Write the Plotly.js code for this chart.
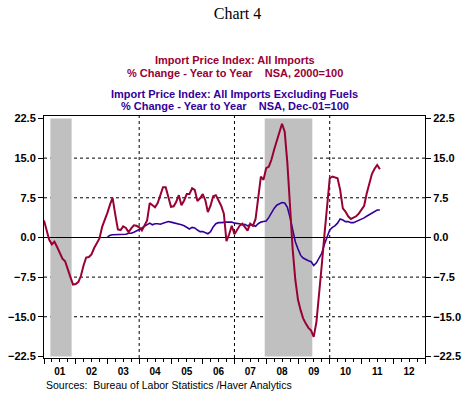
<!DOCTYPE html>
<html>
<head>
<meta charset="utf-8">
<script src="https://cdn.plot.ly/plotly-3.0.1.min.js"></script>
<style>html,body{margin:0;padding:0;background:#fff;}#chart{width:475px;height:393px;}</style>
</head>
<body>
<div id="chart"></div>
<script>
// Monthly series, % change year to year
const allImportsStart = [2001, 1];
const allImports = [
  3.2, 1.5, -0.4, -1.3, -0.8, -1.8, -3.0, -4.0, -4.5, -5.8, -7.5, -8.9,
  -8.8, -8.4, -7.3, -5.3, -3.8, -3.7, -3.2, -2.0, -1.1, -0.2, 2.0, 3.2,
  4.7, 6.3, 7.5, 4.3, 1.5, 1.4, 2.1, 1.8, 1.0, 1.7, 2.3, 2.2,
  1.9, 1.3, 2.1, 3.2, 6.5, 6.0, 5.7, 6.5, 8.2, 9.5, 9.5, 7.8,
  5.8, 5.9, 6.7, 8.0, 6.1, 7.0, 8.2, 8.2, 9.3, 9.0, 6.9, 7.4,
  8.2, 7.0, 4.8, 6.0, 7.8, 8.0, 7.1, 6.0, 4.5, -0.7, 0.6, 2.2,
  0.6, 1.6, 2.2, 2.6, 1.9, 1.3, 2.6, 2.2, 3.5, 8.0, 11.5, 10.9,
  13.1, 13.4, 14.7, 16.6, 18.3, 20.2, 21.5, 20.0, 14.0, 6.0, -2.3, -8.0,
  -11.8, -13.8, -15.3, -16.3, -17.1, -17.6, -18.8, -16.0, -11.0, -5.3, 0.5, 6.0,
  11.2, 11.5, 11.4, 11.2, 9.0, 5.5, 4.9, 4.0, 3.5, 3.8, 4.0, 4.5,
  5.2, 6.0, 8.2, 10.2, 12.0, 13.0, 13.7, 12.9
];
const exFuelsStart = [2003, 1];
const exFuels = [
  0.1, 0.4, 0.5, 0.5, 0.6, 0.5, 0.5, 0.6, 0.8, 0.8, 1.0, 1.2,
  1.5, 1.8, 2.1, 2.4, 2.7, 2.4, 2.6, 2.6, 2.5, 2.7, 2.8, 3.0,
  2.9, 2.8, 2.7, 2.5, 2.4, 2.2, 1.9, 1.6, 1.9, 1.8, 1.4, 1.1,
  1.1, 0.9, 0.7, 1.1, 2.0, 2.6, 2.8, 2.8, 2.9, 2.9, 2.9, 2.9,
  2.7, 2.7, 2.6, 2.4, 2.5, 2.2, 2.4, 2.3, 2.1, 2.6, 2.9, 3.0,
  3.1, 3.8, 4.7, 5.5, 6.1, 6.4, 6.6, 6.5, 5.7, 3.8, 1.2, -0.8,
  -2.2, -3.4, -3.9, -4.2, -4.4, -4.6, -5.3, -4.8, -4.0, -3.0, -1.3, 0.2,
  1.4, 1.9, 2.2, 2.7, 3.5, 3.3, 3.0, 3.0, 2.8, 2.8, 3.0, 3.2,
  3.5, 3.7, 4.0, 4.3, 4.6, 4.9, 5.2, 5.2
];
const recessions = [["2001-03-15", "2001-11-15"], ["2007-12-15", "2009-06-15"]];
const yTicks = [-22.5, -15.0, -7.5, 0.0, 7.5, 15.0, 22.5];
const hGrid = [-15.0, -7.5, 7.5, 15.0];
const vGrid = ["2004-01-01", "2007-01-01", "2010-01-01"];
const redTitle = ["Import Price Index: All Imports", "% Change - Year to Year\u00a0\u00a0\u00a0\u00a0NSA, 2000=100"];
const blueTitle = ["Import Price Index: All Imports Excluding Fuels", "% Change - Year to Year\u00a0\u00a0\u00a0\u00a0NSA, Dec-01=100"];
const sourceText = "Sources:\u00a0 Bureau of Labor Statistics /Haver Analytics";

function monthDates(start, n) {
  const out = [];
  for (let i = 0; i < n; i++) {
    const m = start[1] - 1 + i;
    const y = start[0] + Math.floor(m / 12);
    const mm = (m % 12) + 1;
    out.push(y + "-" + String(mm).padStart(2, "0") + "-01");
  }
  return out;
}

const RED = "#990033", BLUE = "#330099";
const SANS = "Liberation Sans, Arial, sans-serif";
const yTickFont = {family: SANS, size: 11, color: "#000", weight: "bold"};
const xTickFont = {family: SANS, size: 10, color: "#000", weight: "bold"};

const traces = [
  {x: monthDates(exFuelsStart, exFuels.length), y: exFuels, type: "scatter", mode: "lines",
   line: {color: BLUE, width: 1.6}, xaxis: "x", yaxis: "y", hoverinfo: "skip"},
  {x: monthDates(allImportsStart, allImports.length), y: allImports, type: "scatter", mode: "lines",
   line: {color: RED, width: 2}, xaxis: "x", yaxis: "y2", hoverinfo: "skip"}
];

const shapes = [];
recessions.forEach(r => shapes.push({type: "rect", xref: "x", yref: "y", x0: r[0], x1: r[1], y0: -22.5, y1: 22.5,
  fillcolor: "#C0C0C0", line: {width: 0}, layer: "below"}));
hGrid.forEach(v => shapes.push({type: "line", xref: "paper", yref: "y", x0: 0, x1: 1, y0: v, y1: v,
  line: {color: "#000", width: 1, dash: "3px,3px"}, layer: "below"}));
vGrid.forEach(d => shapes.push({type: "line", xref: "x", yref: "paper", x0: d, x1: d, y0: 0, y1: 1,
  line: {color: "#000", width: 1, dash: "3px,3px"}, layer: "below"}));

function titleLine(text, y, color) {
  return {text: text, xref: "paper", yref: "paper", x: 0.5, y: y, xanchor: "center", yanchor: "middle",
    showarrow: false, font: {family: SANS, size: 11, color: color, weight: "bold"}};
}

const yRange = [-22.8, 22.97];
const layout = {
  width: 475, height: 393,
  margin: {l: 44, r: 50, t: 116, b: 35},
  paper_bgcolor: "#fff", plot_bgcolor: "#fff",
  showlegend: false,
  title: {text: "Chart 4", x: 0.5, xanchor: "center", y: 0.967, yanchor: "middle", yref: "container",
    font: {family: "Liberation Serif, Times New Roman, serif", size: 16, color: "#000"}},
  xaxis: {type: "date", range: ["2001-01-01", "2013-01-01"], dtick: "M12", tick0: "2001-01-01",
    tickformat: "%y", ticklabelmode: "period", ticks: "outside", ticklen: 5, tickcolor: "#000",
    ticklabelstandoff: -1,
    minor: {dtick: "M3", ticks: "outside", ticklen: 3, tickcolor: "#000", showgrid: false},
    showgrid: false, zeroline: false, showline: true, linecolor: "#000", linewidth: 1, mirror: true,
    tickfont: xTickFont, fixedrange: true},
  yaxis: {range: yRange, tickvals: yTicks, tickformat: ".1f", ticks: "outside", ticklen: 5, tickcolor: "#000",
    showgrid: false, zeroline: true, zerolinecolor: "#000", zerolinewidth: 1,
    showline: true, linecolor: "#000", linewidth: 1, tickfont: yTickFont, fixedrange: true},
  yaxis2: {range: yRange, matches: "y", overlaying: "y", side: "right", tickvals: yTicks, tickformat: ".1f",
    ticks: "outside", ticklen: 5, tickcolor: "#000", showgrid: false, zeroline: false,
    showline: true, linecolor: "#000", linewidth: 1, tickfont: yTickFont, fixedrange: true},
  shapes: shapes,
  annotations: [
    titleLine(redTitle[0], 1.2314, RED),
    titleLine(redTitle[1], 1.179, RED),
    titleLine(blueTitle[0], 1.0921, BLUE),
    titleLine(blueTitle[1], 1.0413, BLUE),
    {text: sourceText, xref: "paper", yref: "paper", x: 0, y: -0.112, xanchor: "left", yanchor: "middle",
     showarrow: false, font: {family: SANS, size: 10.5, color: "#000"}}
  ]
};

Plotly.newPlot("chart", traces, layout, {displayModeBar: false, staticPlot: true});
</script>
</body>
</html>
